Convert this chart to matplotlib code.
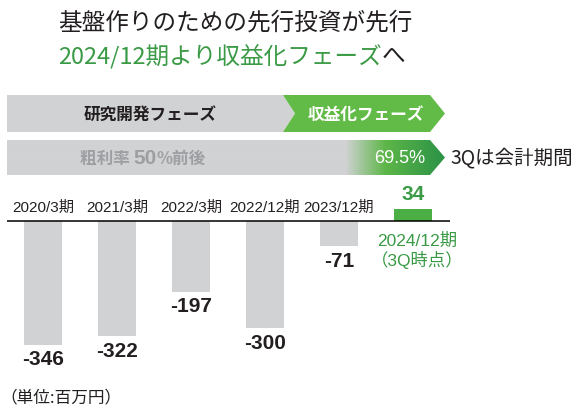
import numpy as np
import matplotlib
matplotlib.use("Agg")
import matplotlib.pyplot as plt
from matplotlib.patches import Polygon

plt.rcParams['font.family'] = ['Noto Sans CJK JP', 'DejaVu Sans']

# data
periods = ['2020/3期', '2021/3期', '2022/3期', '2022/12期', '2023/12期', '2024/12期']
op_income = [-346, -322, -197, -300, -71, 34]
last_note = '2024/12期\n（3Q時点）'
margin_label = '69.5%'

GRAY = '#d1d2d4'
GREEN = '#3a9a45'
LGREEN = '#62bb46'
DGREEN = '#2e9446'
TXT = '#231f20'
LAB = ['Liberation Sans', 'Noto Sans CJK JP']

W, H = 576, 410
fig = plt.figure(figsize=(W / 100, H / 100), dpi=100)

# pixel-coordinate overlay for title and phase banners
bg = fig.add_axes([0, 0, 1, 1])
bg.set_xlim(0, W)
bg.set_ylim(H, 0)
bg.axis('off')

bg.text(58, 23, '基盤作りのための先行投資が先行', fontsize=17, color=TXT, va='center')
t2 = bg.text(58, 56, '2024/12期より収益化フェーズ', fontsize=17, color=GREEN, va='center')
bg.annotate('へ', xy=(1, 0.5), xycoords=t2, fontsize=17, color=TXT, va='center')

# phase banner
bg.add_patch(Polygon([(7, 96), (283, 96), (295, 114.5), (283, 133), (7, 133)],
                     closed=True, fc=GRAY, ec='none'))
bg.add_patch(Polygon([(283, 96), (430, 96), (445, 114.5), (430, 133), (283, 133), (295, 114.5)],
                     closed=True, fc=LGREEN, ec='none'))
bg.text(150, 115, '研究開発フェーズ', fontsize=12, color=TXT, ha='center', va='center',
        fontweight='bold')
bg.text(366, 115, '収益化フェーズ', fontsize=12, color='white', ha='center', va='center',
        fontweight='bold')

# gross margin banner with gradient
poly2 = Polygon([(7, 141), (430, 141), (445, 158.5), (430, 176), (7, 176)],
                closed=True, fc='none', ec='none')
bg.add_patch(poly2)
c_gray = np.array(matplotlib.colors.to_rgb(GRAY))
c_l = np.array(matplotlib.colors.to_rgb('#5db648'))
c_d = np.array(matplotlib.colors.to_rgb(DGREEN))
grad = np.zeros((1, W, 3))
for i in range(W):
    if i < 345:
        grad[0, i] = c_gray
    elif i < 385:
        f = (i - 345) / 40
        grad[0, i] = c_gray * (1 - f) + c_l * f
    else:
        f = min((i - 385) / 55, 1)
        grad[0, i] = c_l * (1 - f) + c_d * f
im = bg.imshow(grad, extent=(0, W, 176, 141), aspect='auto', interpolation='bilinear')
im.set_clip_path(poly2)
bg.set_xlim(0, W)
bg.set_ylim(H, 0)

ta = bg.text(80, 159, '粗利率 ', fontsize=12, color='#9d9fa2', va='center', fontweight='bold')
tb = bg.annotate('50', xy=(1, 0.5), xycoords=ta, fontsize=15, color='#9d9fa2', va='center',
                 fontweight='bold', family=['Liberation Sans'])
bg.annotate('%前後', xy=(1, 0.5), xycoords=tb, fontsize=12, color='#9d9fa2', va='center',
            fontweight='bold')
bg.text(425, 159, margin_label, fontsize=13, color='white', ha='right', va='center',
        family=['Liberation Sans'])
bg.text(450, 158, '3Qは会計期間', fontsize=14, color=TXT, va='center')

bg.text(0, 398, '（単位:百万円）', fontsize=12, color=TXT, va='center')

# bar chart
ax = fig.add_axes([7 / W, 10 / H, 443 / W, 220 / H])
ax.set_xlim(-0.486, 5.5)
ax.set_ylim(-497, 117)
ax.axis('off')
ax.patch.set_alpha(0)

x = np.arange(len(periods))
colors = [GRAY] * (len(periods) - 1) + ['#4caf44']
ax.bar(x, op_income, width=0.514, color=colors, zorder=2)
ax.axhline(0, color='black', lw=1.1, zorder=3)

for i, (p, v) in enumerate(zip(periods, op_income)):
    if v < 0:
        ax.annotate(p, (i, 0), xytext=(0, 5), textcoords='offset points', ha='center',
                    va='bottom', fontsize=11, color=TXT, family=LAB)
        ax.annotate(str(v), (i, v), xytext=(0, -10), textcoords='offset points', ha='center',
                    va='center', fontsize=15, fontweight='bold', color=TXT,
                    family=['Liberation Sans'])
    else:
        ax.annotate(str(v), (i, v), xytext=(0, 11), textcoords='offset points', ha='center',
                    va='center', fontsize=15, fontweight='bold', color=GREEN,
                    family=['Liberation Sans'])
        ax.annotate(last_note, (i, 0), xytext=(3, -8), textcoords='offset points', ha='center',
                    va='top', fontsize=12.5, color=GREEN, linespacing=1.15, family=LAB)

fig.savefig('out.png', dpi=100)
